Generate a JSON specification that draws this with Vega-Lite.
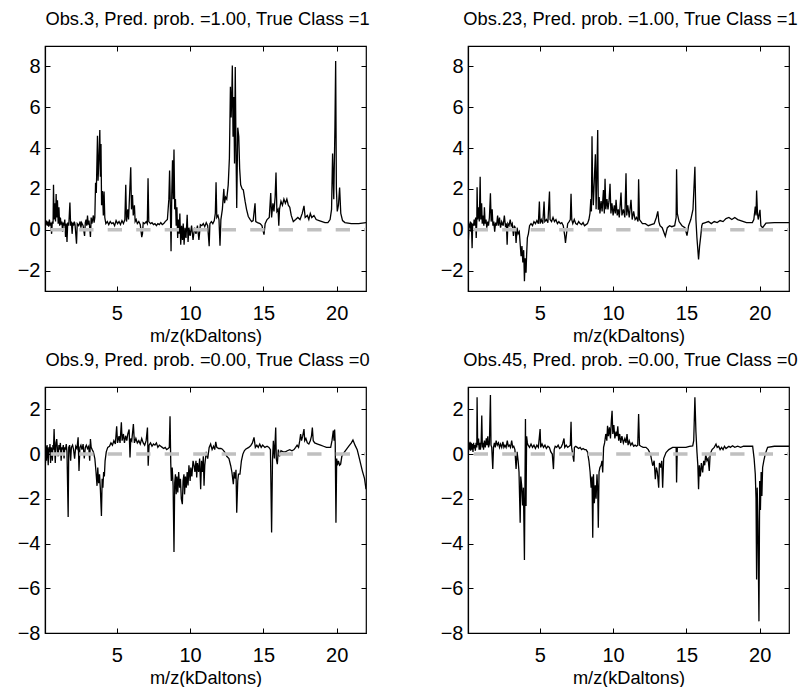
{
  "$schema": "https://vega.github.io/schema/vega-lite/v6.json",
  "padding": {"left": 16, "top": 9, "right": 0, "bottom": 0},
  "background": "white",
  "columns": 2,
  "spacing": {"column": 102, "row": 96},
  "bounds": "flush",
  "config": {
    "font": "Liberation Sans",
    "view": {"stroke": "black", "strokeWidth": 1.2},
    "axis": {"grid": false, "domainColor": "black", "tickColor": "black", "labelColor": "black", "titleColor": "black", "tickSize": -5, "labelFont": "Liberation Sans", "labelFontSize": 20, "titleFont": "Liberation Sans", "titleFontSize": 18.2, "titleFontWeight": "normal", "domainWidth": 1.2, "tickWidth": 1},
    "title": {"fontSize": 18.3, "fontWeight": "normal", "color": "black", "font": "Liberation Sans", "offset": 16, "baseline": "alphabetic", "frame": "group", "dx": 2}
  },
  "datasets": {
    "p1": [
      {"x":0.10,"y":0.55},{"x":0.15,"y":0.25},{"x":0.2,"y":0.45},{"x":0.25,"y":0.2},{"x":0.3,"y":0.4},{"x":0.35,"y":0.15},{"x":0.4,"y":0.5},{"x":0.45,"y":0.2},{"x":0.5,"y":0.35},{"x":0.55,"y":-0.2},{"x":0.6,"y":0.4},{"x":0.65,"y":0.3},{"x":0.68,"y":2.2},{"x":0.72,"y":0.5},{"x":0.78,"y":1.3},{"x":0.82,"y":0.4},{"x":0.86,"y":1.75},{"x":0.9,"y":0.6},{"x":0.95,"y":1.45},{"x":1.0,"y":0.3},{"x":1.05,"y":1.1},{"x":1.1,"y":0.2},{"x":1.15,"y":0.6},{"x":1.2,"y":0.25},{"x":1.25,"y":0.4},{"x":1.3,"y":-0.1},{"x":1.35,"y":0.35},{"x":1.4,"y":0.2},{"x":1.45,"y":0.5},{"x":1.5,"y":-0.35},{"x":1.55,"y":0.3},{"x":1.6,"y":-0.6},{"x":1.65,"y":0.35},{"x":1.72,"y":0.2},{"x":1.8,"y":1.33},{"x":1.85,"y":0.2},{"x":1.9,"y":0.4},{"x":1.95,"y":-0.2},{"x":2.0,"y":0.35},{"x":2.05,"y":0.2},{"x":2.1,"y":0.4},{"x":2.15,"y":0.25},{"x":2.25,"y":-0.68},{"x":2.3,"y":0.3},{"x":2.4,"y":0.2},{"x":2.5,"y":0.4},{"x":2.55,"y":0.1},{"x":2.6,"y":0.35},{"x":2.7,"y":0.2},{"x":2.8,"y":-0.3},{"x":2.85,"y":0.35},{"x":2.9,"y":0.5},{"x":2.95,"y":0.2},{"x":3.0,"y":0.7},{"x":3.05,"y":0.25},{"x":3.1,"y":0.45},{"x":3.15,"y":0.1},{"x":3.2,"y":-0.35},{"x":3.25,"y":0.6},{"x":3.3,"y":0.3},{"x":3.4,"y":0.7},{"x":3.45,"y":0.35},{"x":3.5,"y":0.6},{"x":3.55,"y":2.3},{"x":3.6,"y":1.8},{"x":3.68,"y":4.6},{"x":3.72,"y":2.4},{"x":3.78,"y":3.5},{"x":3.84,"y":4.88},{"x":3.88,"y":2.6},{"x":3.92,"y":4.2},{"x":3.96,"y":1.2},{"x":4.02,"y":1.9},{"x":4.08,"y":0.7},{"x":4.13,"y":1.87},{"x":4.18,"y":0.6},{"x":4.25,"y":0.3},{"x":4.35,"y":0.4},{"x":4.45,"y":0.25},{"x":4.55,"y":0.4},{"x":4.65,"y":0.3},{"x":4.75,"y":0.35},{"x":4.85,"y":0.2},{"x":4.95,"y":0.45},{"x":5.05,"y":0.3},{"x":5.15,"y":0.4},{"x":5.25,"y":0.25},{"x":5.35,"y":0.45},{"x":5.45,"y":0.3},{"x":5.55,"y":0.5},{"x":5.61,"y":2.2},{"x":5.66,"y":0.4},{"x":5.75,"y":1.0},{"x":5.8,"y":0.5},{"x":5.87,"y":1.7},{"x":5.95,"y":3.06},{"x":6.0,"y":1.0},{"x":6.07,"y":1.7},{"x":6.12,"y":0.7},{"x":6.2,"y":1.2},{"x":6.25,"y":0.4},{"x":6.32,"y":0.5},{"x":6.4,"y":0.3},{"x":6.5,"y":0.4},{"x":6.6,"y":0.25},{"x":6.7,"y":-0.36},{"x":6.75,"y":-0.2},{"x":6.8,"y":0.35},{"x":6.9,"y":0.3},{"x":7.0,"y":0.4},{"x":7.08,"y":0.3},{"x":7.13,"y":2.52},{"x":7.18,"y":0.4},{"x":7.3,"y":0.3},{"x":7.4,"y":0.35},{"x":7.5,"y":0.25},{"x":7.6,"y":0.3},{"x":7.7,"y":0.2},{"x":7.8,"y":0.3},{"x":7.9,"y":0.25},{"x":8.0,"y":0.35},{"x":8.1,"y":0.25},{"x":8.2,"y":0.3},{"x":8.3,"y":0.4},{"x":8.45,"y":0.5},{"x":8.55,"y":1.5},{"x":8.6,"y":2.9},{"x":8.65,"y":1.2},{"x":8.7,"y":-1.05},{"x":8.75,"y":1.8},{"x":8.8,"y":3.4},{"x":8.85,"y":1.5},{"x":8.9,"y":3.93},{"x":8.95,"y":1.0},{"x":9.0,"y":1.5},{"x":9.05,"y":0.2},{"x":9.1,"y":1.1},{"x":9.15,"y":-0.4},{"x":9.2,"y":0.5},{"x":9.25,"y":-0.2},{"x":9.3,"y":0.8},{"x":9.36,"y":-0.73},{"x":9.42,"y":0.2},{"x":9.48,"y":-0.5},{"x":9.53,"y":0.3},{"x":9.59,"y":-0.73},{"x":9.65,"y":0.1},{"x":9.72,"y":-0.4},{"x":9.8,"y":0.73},{"x":9.86,"y":-0.6},{"x":9.92,"y":0.1},{"x":10.0,"y":-0.3},{"x":10.1,"y":0.2},{"x":10.2,"y":-0.5},{"x":10.3,"y":0.1},{"x":10.4,"y":-0.2},{"x":10.5,"y":0.2},{"x":10.6,"y":-0.5},{"x":10.7,"y":0.25},{"x":10.8,"y":0.2},{"x":10.9,"y":0.3},{"x":11.0,"y":0.15},{"x":11.1,"y":0.35},{"x":11.2,"y":0.2},{"x":11.3,"y":-0.81},{"x":11.35,"y":0.3},{"x":11.45,"y":0.4},{"x":11.55,"y":0.3},{"x":11.65,"y":0.45},{"x":11.72,"y":0.8},{"x":11.77,"y":2.33},{"x":11.82,"y":0.6},{"x":11.9,"y":0.7},{"x":11.97,"y":0.5},{"x":12.04,"y":-0.78},{"x":12.1,"y":0.5},{"x":12.2,"y":1.0},{"x":12.3,"y":2.0},{"x":12.35,"y":1.3},{"x":12.42,"y":1.6},{"x":12.5,"y":1.5},{"x":12.6,"y":2.2},{"x":12.68,"y":3.5},{"x":12.75,"y":7.0},{"x":12.8,"y":5.5},{"x":12.85,"y":6.8},{"x":12.88,"y":8.05},{"x":12.93,"y":4.56},{"x":12.98,"y":6.5},{"x":13.03,"y":3.25},{"x":13.08,"y":7.97},{"x":13.13,"y":4.0},{"x":13.18,"y":1.06},{"x":13.25,"y":5.0},{"x":13.32,"y":4.56},{"x":13.38,"y":3.0},{"x":13.45,"y":2.2},{"x":13.55,"y":2.0},{"x":13.63,"y":1.95},{"x":13.75,"y":1.4},{"x":13.85,"y":1.0},{"x":13.97,"y":0.65},{"x":14.1,"y":0.5},{"x":14.2,"y":0.4},{"x":14.3,"y":0.45},{"x":14.43,"y":1.3},{"x":14.48,"y":0.4},{"x":14.6,"y":0.35},{"x":14.77,"y":0.3},{"x":14.9,"y":0.2},{"x":15.04,"y":-0.24},{"x":15.12,"y":0.3},{"x":15.25,"y":0.5},{"x":15.4,"y":0.6},{"x":15.5,"y":1.8},{"x":15.56,"y":0.6},{"x":15.65,"y":1.3},{"x":15.72,"y":0.9},{"x":15.8,"y":1.6},{"x":15.86,"y":2.8},{"x":15.92,"y":0.9},{"x":16.0,"y":1.0},{"x":16.05,"y":0.2},{"x":16.1,"y":1.0},{"x":16.2,"y":1.4},{"x":16.3,"y":1.2},{"x":16.4,"y":1.5},{"x":16.5,"y":1.3},{"x":16.6,"y":1.5},{"x":16.7,"y":1.2},{"x":16.8,"y":1.1},{"x":16.9,"y":0.7},{"x":17.04,"y":0.4},{"x":17.2,"y":0.5},{"x":17.35,"y":0.6},{"x":17.5,"y":0.5},{"x":17.65,"y":0.8},{"x":17.77,"y":1.17},{"x":17.85,"y":0.6},{"x":18.0,"y":0.7},{"x":18.1,"y":0.5},{"x":18.2,"y":0.8},{"x":18.3,"y":0.6},{"x":18.45,"y":0.7},{"x":18.6,"y":0.5},{"x":18.8,"y":0.45},{"x":19.0,"y":0.4},{"x":19.2,"y":0.35},{"x":19.4,"y":0.35},{"x":19.55,"y":0.5},{"x":19.65,"y":1.0},{"x":19.72,"y":3.74},{"x":19.8,"y":1.5},{"x":19.88,"y":5.0},{"x":19.93,"y":8.26},{"x":19.98,"y":2.0},{"x":20.04,"y":0.9},{"x":20.12,"y":1.2},{"x":20.2,"y":2.07},{"x":20.28,"y":0.8},{"x":20.4,"y":0.45},{"x":20.56,"y":0.35},{"x":21.0,"y":0.3},{"x":21.5,"y":0.3},{"x":22.0,"y":0.35}
    ],
    "p2": [
      {"x":0.10,"y":0.3},{"x":0.13,"y":-0.5},{"x":0.18,"y":0.3},{"x":0.22,"y":0.1},{"x":0.26,"y":0.4},{"x":0.3,"y":-0.1},{"x":0.33,"y":0.35},{"x":0.38,"y":-0.9},{"x":0.42,"y":0.3},{"x":0.48,"y":0.2},{"x":0.52,"y":0.5},{"x":0.58,"y":0.2},{"x":0.62,"y":0.6},{"x":0.66,"y":-0.4},{"x":0.7,"y":0.4},{"x":0.72,"y":2.08},{"x":0.76,"y":0.5},{"x":0.82,"y":1.1},{"x":0.87,"y":0.4},{"x":0.93,"y":2.6},{"x":0.97,"y":0.5},{"x":1.03,"y":1.3},{"x":1.07,"y":0.3},{"x":1.13,"y":0.7},{"x":1.18,"y":0.2},{"x":1.22,"y":1.1},{"x":1.27,"y":0.3},{"x":1.33,"y":0.5},{"x":1.38,"y":0.1},{"x":1.45,"y":0.4},{"x":1.5,"y":0.2},{"x":1.56,"y":0.6},{"x":1.63,"y":1.79},{"x":1.68,"y":0.4},{"x":1.75,"y":1.0},{"x":1.8,"y":0.2},{"x":1.86,"y":0.4},{"x":1.92,"y":-0.1},{"x":1.98,"y":0.35},{"x":2.05,"y":0.2},{"x":2.12,"y":0.7},{"x":2.18,"y":0.2},{"x":2.25,"y":0.6},{"x":2.32,"y":0.1},{"x":2.4,"y":0.4},{"x":2.5,"y":0.2},{"x":2.58,"y":0.7},{"x":2.65,"y":0.2},{"x":2.72,"y":0.3},{"x":2.77,"y":-0.73},{"x":2.82,"y":0.3},{"x":2.9,"y":0.2},{"x":2.98,"y":0.5},{"x":3.05,"y":0.2},{"x":3.12,"y":0.3},{"x":3.2,"y":-0.3},{"x":3.26,"y":0.2},{"x":3.32,"y":0.1},{"x":3.38,"y":-0.65},{"x":3.45,"y":0.1},{"x":3.52,"y":-0.2},{"x":3.6,"y":-0.1},{"x":3.66,"y":-0.7},{"x":3.72,"y":-1.3},{"x":3.78,"y":-0.8},{"x":3.84,"y":-1.6},{"x":3.9,"y":-1.0},{"x":3.95,"y":-2.52},{"x":4.0,"y":-1.4},{"x":4.06,"y":-2.1},{"x":4.1,"y":-1.2},{"x":4.15,"y":-0.4},{"x":4.22,"y":-0.2},{"x":4.3,"y":0.2},{"x":4.4,"y":0.3},{"x":4.5,"y":0.2},{"x":4.6,"y":0.4},{"x":4.7,"y":0.3},{"x":4.8,"y":0.45},{"x":4.9,"y":0.3},{"x":4.97,"y":1.38},{"x":5.02,"y":0.3},{"x":5.1,"y":0.5},{"x":5.2,"y":0.3},{"x":5.29,"y":1.38},{"x":5.34,"y":0.4},{"x":5.45,"y":0.5},{"x":5.55,"y":0.35},{"x":5.66,"y":1.87},{"x":5.7,"y":0.5},{"x":5.8,"y":0.4},{"x":5.9,"y":0.6},{"x":6.0,"y":0.4},{"x":6.1,"y":0.5},{"x":6.2,"y":0.3},{"x":6.3,"y":0.4},{"x":6.4,"y":0.3},{"x":6.5,"y":0.35},{"x":6.6,"y":0.2},{"x":6.7,"y":-0.3},{"x":6.75,"y":-0.65},{"x":6.82,"y":-0.2},{"x":6.9,"y":0.3},{"x":7.0,"y":0.4},{"x":7.08,"y":0.5},{"x":7.13,"y":1.76},{"x":7.18,"y":0.5},{"x":7.25,"y":0.3},{"x":7.35,"y":0.5},{"x":7.45,"y":0.3},{"x":7.55,"y":0.25},{"x":7.65,"y":0.4},{"x":7.75,"y":0.3},{"x":7.85,"y":0.25},{"x":7.95,"y":0.35},{"x":8.05,"y":0.2},{"x":8.15,"y":0.25},{"x":8.25,"y":0.3},{"x":8.35,"y":0.5},{"x":8.42,"y":0.8},{"x":8.48,"y":1.5},{"x":8.52,"y":0.9},{"x":8.56,"y":4.58},{"x":8.6,"y":2.3},{"x":8.65,"y":1.2},{"x":8.72,"y":2.5},{"x":8.79,"y":3.7},{"x":8.84,"y":1.0},{"x":8.9,"y":3.0},{"x":8.95,"y":4.88},{"x":8.99,"y":0.98},{"x":9.05,"y":1.6},{"x":9.1,"y":0.8},{"x":9.18,"y":1.4},{"x":9.25,"y":0.9},{"x":9.34,"y":1.95},{"x":9.4,"y":0.8},{"x":9.45,"y":2.5},{"x":9.5,"y":1.0},{"x":9.58,"y":1.5},{"x":9.65,"y":1.0},{"x":9.72,"y":1.4},{"x":9.79,"y":2.25},{"x":9.85,"y":0.8},{"x":9.92,"y":1.3},{"x":10.0,"y":0.7},{"x":10.08,"y":1.2},{"x":10.15,"y":0.8},{"x":10.2,"y":1.47},{"x":10.28,"y":0.7},{"x":10.35,"y":1.0},{"x":10.42,"y":0.6},{"x":10.48,"y":1.2},{"x":10.54,"y":1.82},{"x":10.6,"y":0.7},{"x":10.7,"y":1.0},{"x":10.8,"y":0.6},{"x":10.88,"y":2.77},{"x":10.93,"y":0.7},{"x":11.0,"y":1.2},{"x":11.1,"y":0.6},{"x":11.22,"y":1.47},{"x":11.3,"y":0.5},{"x":11.4,"y":0.9},{"x":11.5,"y":0.5},{"x":11.6,"y":0.6},{"x":11.7,"y":0.4},{"x":11.74,"y":2.47},{"x":11.8,"y":0.5},{"x":11.9,"y":0.4},{"x":12.0,"y":0.3},{"x":12.2,"y":0.3},{"x":12.4,"y":0.2},{"x":12.6,"y":0.25},{"x":12.8,"y":0.3},{"x":12.95,"y":0.6},{"x":13.05,"y":0.9},{"x":13.12,"y":0.4},{"x":13.2,"y":0.2},{"x":13.35,"y":0.1},{"x":13.56,"y":-0.32},{"x":13.7,"y":0.1},{"x":13.85,"y":0.2},{"x":14.0,"y":0.15},{"x":14.2,"y":0.2},{"x":14.3,"y":0.6},{"x":14.33,"y":2.96},{"x":14.38,"y":0.8},{"x":14.5,"y":0.4},{"x":14.7,"y":0.2},{"x":14.9,"y":0.1},{"x":15.04,"y":-0.29},{"x":15.15,"y":0.2},{"x":15.3,"y":0.5},{"x":15.45,"y":1.0},{"x":15.58,"y":3.09},{"x":15.65,"y":0.5},{"x":15.72,"y":-0.4},{"x":15.83,"y":-1.46},{"x":15.9,"y":-0.8},{"x":15.98,"y":-0.3},{"x":16.05,"y":0.2},{"x":16.1,"y":0.3},{"x":16.3,"y":0.35},{"x":16.5,"y":0.4},{"x":16.7,"y":0.3},{"x":16.9,"y":0.4},{"x":17.1,"y":0.35},{"x":17.3,"y":0.45},{"x":17.5,"y":0.4},{"x":17.7,"y":0.55},{"x":17.9,"y":0.6},{"x":18.1,"y":0.5},{"x":18.3,"y":0.6},{"x":18.5,"y":0.5},{"x":18.7,"y":0.45},{"x":18.9,"y":0.4},{"x":19.1,"y":0.35},{"x":19.3,"y":0.35},{"x":19.5,"y":0.35},{"x":19.6,"y":0.5},{"x":19.7,"y":1.14},{"x":19.75,"y":0.7},{"x":19.79,"y":1.92},{"x":19.85,"y":0.8},{"x":19.9,"y":0.5},{"x":20.02,"y":0.98},{"x":20.08,"y":0.2},{"x":20.2,"y":0.1},{"x":20.43,"y":0.33},{"x":21.0,"y":0.35},{"x":22.0,"y":0.35}
    ],
    "p3": [
      {"x":0.10,"y":0.2},{"x":0.13,"y":-0.4},{"x":0.17,"y":0.35},{"x":0.2,"y":-0.3},{"x":0.24,"y":0.4},{"x":0.28,"y":0.1},{"x":0.32,"y":-0.5},{"x":0.36,"y":0.3},{"x":0.4,"y":0.1},{"x":0.44,"y":0.45},{"x":0.48,"y":-0.4},{"x":0.52,"y":0.3},{"x":0.56,"y":0.2},{"x":0.6,"y":-0.3},{"x":0.64,"y":0.4},{"x":0.68,"y":0.2},{"x":0.72,"y":1.12},{"x":0.76,"y":0.3},{"x":0.8,"y":-0.4},{"x":0.85,"y":0.5},{"x":0.9,"y":0.67},{"x":0.95,"y":0.2},{"x":1.0,"y":-0.1},{"x":1.05,"y":0.4},{"x":1.1,"y":0.2},{"x":1.15,"y":0.5},{"x":1.2,"y":-0.3},{"x":1.25,"y":0.3},{"x":1.3,"y":0.2},{"x":1.35,"y":0.4},{"x":1.4,"y":-0.2},{"x":1.45,"y":0.3},{"x":1.5,"y":0.2},{"x":1.55,"y":0.45},{"x":1.6,"y":0.1},{"x":1.68,"y":-2.81},{"x":1.72,"y":0.3},{"x":1.78,"y":0.4},{"x":1.85,"y":-0.3},{"x":1.9,"y":0.3},{"x":1.98,"y":0.4},{"x":2.05,"y":0.2},{"x":2.12,"y":-0.2},{"x":2.2,"y":0.35},{"x":2.28,"y":0.25},{"x":2.36,"y":0.75},{"x":2.42,"y":-0.75},{"x":2.48,"y":0.3},{"x":2.55,"y":0.4},{"x":2.62,"y":0.2},{"x":2.7,"y":0.45},{"x":2.78,"y":-0.2},{"x":2.85,"y":0.3},{"x":2.92,"y":0.4},{"x":3.0,"y":0.25},{"x":3.08,"y":0.35},{"x":3.15,"y":-0.3},{"x":3.2,"y":0.67},{"x":3.25,"y":0.3},{"x":3.32,"y":0.2},{"x":3.4,"y":0.1},{"x":3.5,"y":-0.2},{"x":3.58,"y":-0.8},{"x":3.65,"y":-1.42},{"x":3.7,"y":-0.6},{"x":3.76,"y":-1.3},{"x":3.82,"y":-0.9},{"x":3.88,"y":-1.6},{"x":3.95,"y":-2.77},{"x":4.0,"y":-1.1},{"x":4.05,"y":-1.5},{"x":4.1,"y":-0.8},{"x":4.15,"y":-1.0},{"x":4.2,"y":-0.3},{"x":4.28,"y":0.1},{"x":4.38,"y":0.3},{"x":4.5,"y":0.35},{"x":4.6,"y":0.5},{"x":4.7,"y":0.4},{"x":4.8,"y":0.6},{"x":4.9,"y":0.45},{"x":4.99,"y":1.24},{"x":5.05,"y":0.5},{"x":5.15,"y":0.8},{"x":5.22,"y":0.5},{"x":5.31,"y":1.42},{"x":5.36,"y":0.6},{"x":5.45,"y":0.9},{"x":5.52,"y":0.5},{"x":5.6,"y":0.82},{"x":5.68,"y":0.6},{"x":5.75,"y":0.9},{"x":5.84,"y":1.1},{"x":5.9,"y":-0.15},{"x":5.95,"y":0.7},{"x":6.02,"y":0.6},{"x":6.08,"y":1.0},{"x":6.13,"y":1.34},{"x":6.2,"y":0.5},{"x":6.3,"y":0.7},{"x":6.4,"y":0.5},{"x":6.5,"y":0.6},{"x":6.6,"y":0.45},{"x":6.7,"y":0.7},{"x":6.8,"y":0.5},{"x":6.9,"y":0.4},{"x":7.0,"y":0.6},{"x":7.09,"y":1.19},{"x":7.14,"y":-0.52},{"x":7.2,"y":0.4},{"x":7.3,"y":0.5},{"x":7.4,"y":0.35},{"x":7.5,"y":0.45},{"x":7.6,"y":0.4},{"x":7.7,"y":0.5},{"x":7.8,"y":0.3},{"x":7.9,"y":0.4},{"x":8.0,"y":0.35},{"x":8.1,"y":0.3},{"x":8.2,"y":0.25},{"x":8.3,"y":0.3},{"x":8.4,"y":0.2},{"x":8.5,"y":0.25},{"x":8.58,"y":0.3},{"x":8.63,"y":1.69},{"x":8.68,"y":-0.4},{"x":8.72,"y":-1.2},{"x":8.78,"y":-0.6},{"x":8.84,"y":-1.4},{"x":8.9,"y":-4.38},{"x":8.95,"y":-1.27},{"x":9.0,"y":-0.9},{"x":9.05,"y":-1.8},{"x":9.1,"y":-1.0},{"x":9.16,"y":-1.72},{"x":9.22,"y":-0.8},{"x":9.28,"y":-1.5},{"x":9.34,"y":-1.1},{"x":9.4,"y":-2.0},{"x":9.47,"y":-2.24},{"x":9.52,"y":-1.2},{"x":9.58,"y":-0.9},{"x":9.62,"y":-1.8},{"x":9.68,"y":-1.0},{"x":9.74,"y":-1.5},{"x":9.8,"y":-0.8},{"x":9.86,"y":-1.4},{"x":9.92,"y":-0.5},{"x":10.0,"y":-1.2},{"x":10.05,"y":-0.6},{"x":10.12,"y":-1.0},{"x":10.2,"y":-0.3},{"x":10.27,"y":-0.52},{"x":10.33,"y":-0.8},{"x":10.4,"y":-0.3},{"x":10.45,"y":-1.05},{"x":10.5,"y":-0.4},{"x":10.58,"y":-0.8},{"x":10.65,"y":-0.2},{"x":10.72,"y":-1.57},{"x":10.78,"y":-0.3},{"x":10.84,"y":-0.8},{"x":10.9,"y":-0.1},{"x":10.95,"y":-1.42},{"x":11.0,"y":-0.5},{"x":11.1,"y":0.1},{"x":11.2,"y":-0.2},{"x":11.3,"y":0.3},{"x":11.4,"y":0.45},{"x":11.5,"y":0.2},{"x":11.6,"y":0.35},{"x":11.68,"y":0.2},{"x":11.75,"y":0.55},{"x":11.82,"y":0.3},{"x":11.95,"y":0.25},{"x":12.1,"y":0.25},{"x":12.2,"y":0.22},{"x":12.35,"y":0.1},{"x":12.5,"y":-0.1},{"x":12.65,"y":-0.2},{"x":12.77,"y":-0.52},{"x":12.85,"y":-0.8},{"x":12.95,"y":-1.35},{"x":13.0,"y":-0.8},{"x":13.08,"y":-1.1},{"x":13.13,"y":-0.7},{"x":13.18,"y":-2.62},{"x":13.25,"y":-1.2},{"x":13.3,"y":-0.9},{"x":13.4,"y":-0.9},{"x":13.5,"y":-0.3},{"x":13.6,"y":0.0},{"x":13.7,"y":0.15},{"x":13.79,"y":0.22},{"x":14.0,"y":0.3},{"x":14.13,"y":0.37},{"x":14.25,"y":0.5},{"x":14.36,"y":0.75},{"x":14.45,"y":0.3},{"x":14.55,"y":0.4},{"x":14.65,"y":0.3},{"x":14.75,"y":0.45},{"x":14.85,"y":0.3},{"x":14.95,"y":0.4},{"x":15.1,"y":0.3},{"x":15.25,"y":0.35},{"x":15.38,"y":0.3},{"x":15.48,"y":0.2},{"x":15.56,"y":-3.51},{"x":15.62,"y":-0.3},{"x":15.68,"y":0.6},{"x":15.75,"y":-0.2},{"x":15.84,"y":1.19},{"x":15.88,"y":-0.2},{"x":15.95,"y":-0.45},{"x":16.02,"y":0.2},{"x":16.1,"y":-0.1},{"x":16.2,"y":0.15},{"x":16.35,"y":0.1},{"x":16.5,"y":0.1},{"x":16.63,"y":0.15},{"x":16.8,"y":0.2},{"x":16.95,"y":0.15},{"x":17.09,"y":0.2},{"x":17.2,"y":0.3},{"x":17.3,"y":0.4},{"x":17.4,"y":0.3},{"x":17.48,"y":0.6},{"x":17.54,"y":0.9},{"x":17.6,"y":0.6},{"x":17.68,"y":0.8},{"x":17.77,"y":1.12},{"x":17.82,"y":0.6},{"x":17.9,"y":0.7},{"x":18.0,"y":0.5},{"x":18.1,"y":0.45},{"x":18.2,"y":0.6},{"x":18.28,"y":0.8},{"x":18.34,"y":1.19},{"x":18.4,"y":0.6},{"x":18.5,"y":0.5},{"x":18.7,"y":0.45},{"x":18.9,"y":0.4},{"x":19.1,"y":0.35},{"x":19.3,"y":0.3},{"x":19.5,"y":0.3},{"x":19.59,"y":0.3},{"x":19.68,"y":0.6},{"x":19.77,"y":1.05},{"x":19.82,"y":0.6},{"x":19.86,"y":1.1},{"x":19.9,"y":0.5},{"x":19.95,"y":-3.07},{"x":20.0,"y":-0.2},{"x":20.05,"y":-0.5},{"x":20.12,"y":-0.3},{"x":20.2,"y":-0.5},{"x":20.27,"y":-0.45},{"x":20.35,"y":-0.1},{"x":20.5,"y":0.07},{"x":20.65,"y":0.2},{"x":20.84,"y":0.37},{"x":21.0,"y":0.5},{"x":21.11,"y":0.63},{"x":21.25,"y":0.4},{"x":21.4,"y":0.2},{"x":21.55,"y":-0.2},{"x":21.75,"y":-0.75},{"x":21.9,"y":-1.1},{"x":22.0,"y":-1.57}
    ],
    "p4": [
      {"x":0.10,"y":0.6},{"x":0.13,"y":0.1},{"x":0.17,"y":0.5},{"x":0.2,"y":0.2},{"x":0.24,"y":0.55},{"x":0.28,"y":0.15},{"x":0.32,"y":0.5},{"x":0.36,"y":0.2},{"x":0.4,"y":0.45},{"x":0.44,"y":0.1},{"x":0.48,"y":0.5},{"x":0.52,"y":0.25},{"x":0.56,"y":0.4},{"x":0.6,"y":0.15},{"x":0.65,"y":0.5},{"x":0.7,"y":0.3},{"x":0.72,"y":2.54},{"x":0.76,"y":0.4},{"x":0.82,"y":0.7},{"x":0.86,"y":0.2},{"x":0.9,"y":0.5},{"x":0.95,"y":0.2},{"x":1.0,"y":0.6},{"x":1.04,"y":1.72},{"x":1.08,"y":0.3},{"x":1.12,"y":0.5},{"x":1.16,"y":0.2},{"x":1.22,"y":0.6},{"x":1.28,"y":0.3},{"x":1.35,"y":0.7},{"x":1.4,"y":0.4},{"x":1.45,"y":0.8},{"x":1.5,"y":0.3},{"x":1.56,"y":0.45},{"x":1.63,"y":2.64},{"x":1.67,"y":0.4},{"x":1.72,"y":0.3},{"x":1.79,"y":-0.67},{"x":1.84,"y":0.3},{"x":1.9,"y":0.5},{"x":1.96,"y":0.3},{"x":2.02,"y":0.6},{"x":2.1,"y":0.4},{"x":2.18,"y":0.5},{"x":2.25,"y":0.3},{"x":2.32,"y":0.45},{"x":2.4,"y":0.3},{"x":2.48,"y":0.55},{"x":2.55,"y":0.3},{"x":2.62,"y":0.4},{"x":2.7,"y":0.3},{"x":2.78,"y":0.6},{"x":2.85,"y":0.35},{"x":2.92,"y":0.4},{"x":3.0,"y":0.3},{"x":3.08,"y":0.6},{"x":3.15,"y":0.3},{"x":3.22,"y":0.35},{"x":3.3,"y":0.2},{"x":3.38,"y":-0.67},{"x":3.45,"y":0.1},{"x":3.52,"y":-0.3},{"x":3.58,"y":-0.8},{"x":3.66,"y":-3.07},{"x":3.7,"y":-1.0},{"x":3.76,"y":-1.4},{"x":3.82,"y":-2.3},{"x":3.88,"y":-1.5},{"x":3.95,"y":-4.74},{"x":4.02,"y":1.57},{"x":4.06,"y":-2.32},{"x":4.1,"y":0.8},{"x":4.15,"y":0.5},{"x":4.2,"y":0.4},{"x":4.3,"y":0.3},{"x":4.4,"y":0.45},{"x":4.5,"y":0.3},{"x":4.6,"y":0.4},{"x":4.7,"y":0.25},{"x":4.8,"y":0.4},{"x":4.9,"y":0.3},{"x":5.02,"y":1.12},{"x":5.06,"y":0.3},{"x":5.15,"y":0.45},{"x":5.25,"y":0.3},{"x":5.35,"y":0.4},{"x":5.45,"y":0.25},{"x":5.55,"y":0.35},{"x":5.65,"y":0.3},{"x":5.75,"y":0.1},{"x":5.85,"y":0.0},{"x":5.93,"y":-0.67},{"x":5.98,"y":0.2},{"x":6.05,"y":0.35},{"x":6.15,"y":0.3},{"x":6.25,"y":0.4},{"x":6.35,"y":0.25},{"x":6.45,"y":0.3},{"x":6.55,"y":0.45},{"x":6.65,"y":0.7},{"x":6.7,"y":0.3},{"x":6.8,"y":0.4},{"x":6.9,"y":0.3},{"x":7.0,"y":0.35},{"x":7.08,"y":0.4},{"x":7.13,"y":1.45},{"x":7.17,"y":0.3},{"x":7.32,"y":-0.34},{"x":7.36,"y":0.3},{"x":7.45,"y":0.35},{"x":7.55,"y":0.3},{"x":7.65,"y":0.25},{"x":7.75,"y":0.3},{"x":7.85,"y":0.2},{"x":7.95,"y":0.25},{"x":8.05,"y":0.2},{"x":8.15,"y":0.2},{"x":8.25,"y":0.1},{"x":8.35,"y":-0.3},{"x":8.43,"y":-0.8},{"x":8.5,"y":-1.5},{"x":8.56,"y":-1.0},{"x":8.61,"y":-3.74},{"x":8.66,"y":-0.9},{"x":8.72,"y":-2.2},{"x":8.78,"y":-1.4},{"x":8.84,"y":-2.0},{"x":8.9,"y":-0.9},{"x":8.95,"y":-1.6},{"x":8.99,"y":-3.29},{"x":9.04,"y":-0.8},{"x":9.1,"y":-0.6},{"x":9.18,"y":-0.5},{"x":9.24,"y":-0.3},{"x":9.29,"y":-0.82},{"x":9.35,"y":0.3},{"x":9.42,"y":0.5},{"x":9.5,"y":0.9},{"x":9.57,"y":0.6},{"x":9.62,"y":1.27},{"x":9.68,"y":0.8},{"x":9.75,"y":1.2},{"x":9.82,"y":0.7},{"x":9.88,"y":1.5},{"x":9.93,"y":1.94},{"x":9.98,"y":0.9},{"x":10.05,"y":1.3},{"x":10.12,"y":0.7},{"x":10.2,"y":1.0},{"x":10.26,"y":0.8},{"x":10.32,"y":1.24},{"x":10.38,"y":0.6},{"x":10.45,"y":0.9},{"x":10.52,"y":0.5},{"x":10.6,"y":0.8},{"x":10.7,"y":0.5},{"x":10.8,"y":0.7},{"x":10.88,"y":0.5},{"x":10.95,"y":0.9},{"x":11.02,"y":0.4},{"x":11.1,"y":0.6},{"x":11.2,"y":0.4},{"x":11.3,"y":0.5},{"x":11.4,"y":0.35},{"x":11.5,"y":0.4},{"x":11.6,"y":0.35},{"x":11.68,"y":0.4},{"x":11.74,"y":1.79},{"x":11.8,"y":0.4},{"x":11.9,"y":0.35},{"x":12.05,"y":0.3},{"x":12.24,"y":0.3},{"x":12.4,"y":0.2},{"x":12.55,"y":0.0},{"x":12.7,"y":-0.52},{"x":12.8,"y":-0.3},{"x":12.88,"y":-1.12},{"x":12.95,"y":-0.6},{"x":13.02,"y":-0.8},{"x":13.11,"y":-1.5},{"x":13.16,"y":-0.4},{"x":13.25,"y":-0.6},{"x":13.32,"y":-0.3},{"x":13.38,"y":-1.5},{"x":13.45,"y":-0.2},{"x":13.61,"y":0.07},{"x":13.8,"y":0.2},{"x":14.06,"y":0.3},{"x":14.2,"y":0.3},{"x":14.3,"y":0.3},{"x":14.33,"y":-1.27},{"x":14.38,"y":0.3},{"x":14.6,"y":0.3},{"x":14.8,"y":0.3},{"x":14.97,"y":0.3},{"x":15.2,"y":0.35},{"x":15.43,"y":0.37},{"x":15.5,"y":0.6},{"x":15.58,"y":2.54},{"x":15.65,"y":1.0},{"x":15.72,"y":0.1},{"x":15.78,"y":-0.5},{"x":15.83,"y":-1.57},{"x":15.88,"y":-0.5},{"x":15.95,"y":-1.0},{"x":16.02,"y":-0.4},{"x":16.11,"y":-0.82},{"x":16.18,"y":-0.3},{"x":16.25,"y":-0.5},{"x":16.32,"y":0.0},{"x":16.4,"y":-0.3},{"x":16.48,"y":-0.2},{"x":16.56,"y":-0.75},{"x":16.62,"y":0.0},{"x":16.75,"y":0.2},{"x":16.9,"y":0.3},{"x":17.02,"y":0.45},{"x":17.1,"y":0.3},{"x":17.2,"y":0.35},{"x":17.3,"y":0.2},{"x":17.4,"y":0.3},{"x":17.5,"y":0.2},{"x":17.6,"y":0.35},{"x":17.7,"y":0.25},{"x":17.8,"y":0.3},{"x":17.9,"y":0.35},{"x":18.0,"y":0.3},{"x":18.15,"y":0.37},{"x":18.3,"y":0.3},{"x":18.5,"y":0.35},{"x":18.7,"y":0.3},{"x":18.9,"y":0.35},{"x":19.1,"y":0.35},{"x":19.3,"y":0.35},{"x":19.52,"y":0.35},{"x":19.62,"y":-0.2},{"x":19.7,"y":-0.9},{"x":19.75,"y":-2.0},{"x":19.79,"y":-5.61},{"x":19.83,"y":-1.5},{"x":19.88,"y":-3.0},{"x":19.95,"y":-7.48},{"x":20.0,"y":-1.2},{"x":20.05,"y":-2.5},{"x":20.1,"y":-0.8},{"x":20.15,"y":-1.87},{"x":20.2,"y":-0.6},{"x":20.28,"y":-0.3},{"x":20.38,"y":0.0},{"x":20.54,"y":0.3},{"x":21.0,"y":0.35},{"x":22.0,"y":0.35}
    ]
  },
  "concat": [
    {
      "width": 321, "height": 245,
      "title": {"text": "Obs.3, Pred. prob. =1.00, True Class =1"},
      "resolve": {"axis": {"x": "independent", "y": "independent"}},
      "layer": [
        {
          "data": {"name": "p1"},
          "mark": {"type": "line", "color": "black", "strokeWidth": 1.3, "clip": true},
          "encoding": {
            "x": {"field": "x", "type": "quantitative", "scale": {"domain": [0.1, 22], "nice": false, "zero": false}, "axis": {"orient": "bottom", "values": [5, 10, 15, 20], "title": "m/z(kDaltons)", "labelBaseline": "alphabetic", "labelPadding": 33, "titleBaseline": "alphabetic", "titleY": 50}},
            "y": {"field": "y", "type": "quantitative", "scale": {"domain": [-3, 9], "nice": false, "zero": false}, "axis": {"orient": "left", "values": [-2, 0, 2, 4, 6, 8], "title": null, "labelPadding": 10}}
          }
        },
        {
          "data": {"values": [{}]},
          "mark": {"type": "rule", "color": "#c0c0c0", "strokeWidth": 3.5, "strokeDash": [14.3, 14.2], "strokeDashOffset": 22.8},
          "encoding": {
            "x": {"datum": 0.1, "type": "quantitative", "axis": {"orient": "top", "values": [5, 10, 15, 20], "labels": false, "title": null, "domain": false}},
            "x2": {"datum": 22},
            "y": {"datum": 0, "type": "quantitative", "axis": {"orient": "right", "values": [-2, 0, 2, 4, 6, 8], "labels": false, "title": null, "domain": false}}
          }
        }
      ]
    },
    {
      "width": 321, "height": 245,
      "title": {"text": "Obs.23, Pred. prob. =1.00, True Class =1"},
      "resolve": {"axis": {"x": "independent", "y": "independent"}},
      "layer": [
        {
          "data": {"name": "p2"},
          "mark": {"type": "line", "color": "black", "strokeWidth": 1.3, "clip": true},
          "encoding": {
            "x": {"field": "x", "type": "quantitative", "scale": {"domain": [0.1, 22], "nice": false, "zero": false}, "axis": {"orient": "bottom", "values": [5, 10, 15, 20], "title": "m/z(kDaltons)", "labelBaseline": "alphabetic", "labelPadding": 33, "titleBaseline": "alphabetic", "titleY": 50}},
            "y": {"field": "y", "type": "quantitative", "scale": {"domain": [-3, 9], "nice": false, "zero": false}, "axis": {"orient": "left", "values": [-2, 0, 2, 4, 6, 8], "title": null, "labelPadding": 10}}
          }
        },
        {
          "data": {"values": [{}]},
          "mark": {"type": "rule", "color": "#c0c0c0", "strokeWidth": 3.5, "strokeDash": [14.3, 14.2], "strokeDashOffset": 22.8},
          "encoding": {
            "x": {"datum": 0.1, "type": "quantitative", "axis": {"orient": "top", "values": [5, 10, 15, 20], "labels": false, "title": null, "domain": false}},
            "x2": {"datum": 22},
            "y": {"datum": 0, "type": "quantitative", "axis": {"orient": "right", "values": [-2, 0, 2, 4, 6, 8], "labels": false, "title": null, "domain": false}}
          }
        }
      ]
    },
    {
      "width": 321, "height": 246,
      "title": {"text": "Obs.9, Pred. prob. =0.00, True Class =0"},
      "resolve": {"axis": {"x": "independent", "y": "independent"}},
      "layer": [
        {
          "data": {"name": "p3"},
          "mark": {"type": "line", "color": "black", "strokeWidth": 1.3, "clip": true},
          "encoding": {
            "x": {"field": "x", "type": "quantitative", "scale": {"domain": [0.1, 22], "nice": false, "zero": false}, "axis": {"orient": "bottom", "values": [5, 10, 15, 20], "title": "m/z(kDaltons)", "labelBaseline": "alphabetic", "labelPadding": 33, "titleBaseline": "alphabetic", "titleY": 50}},
            "y": {"field": "y", "type": "quantitative", "scale": {"domain": [-8, 3], "nice": false, "zero": false}, "axis": {"orient": "left", "values": [-8, -6, -4, -2, 0, 2], "title": null, "labelPadding": 10}}
          }
        },
        {
          "data": {"values": [{}]},
          "mark": {"type": "rule", "color": "#c0c0c0", "strokeWidth": 3.5, "strokeDash": [14.3, 14.2], "strokeDashOffset": 22.8},
          "encoding": {
            "x": {"datum": 0.1, "type": "quantitative", "axis": {"orient": "top", "values": [5, 10, 15, 20], "labels": false, "title": null, "domain": false}},
            "x2": {"datum": 22},
            "y": {"datum": 0, "type": "quantitative", "axis": {"orient": "right", "values": [-8, -6, -4, -2, 0, 2], "labels": false, "title": null, "domain": false}}
          }
        }
      ]
    },
    {
      "width": 321, "height": 246,
      "title": {"text": "Obs.45, Pred. prob. =0.00, True Class =0"},
      "resolve": {"axis": {"x": "independent", "y": "independent"}},
      "layer": [
        {
          "data": {"name": "p4"},
          "mark": {"type": "line", "color": "black", "strokeWidth": 1.3, "clip": true},
          "encoding": {
            "x": {"field": "x", "type": "quantitative", "scale": {"domain": [0.1, 22], "nice": false, "zero": false}, "axis": {"orient": "bottom", "values": [5, 10, 15, 20], "title": "m/z(kDaltons)", "labelBaseline": "alphabetic", "labelPadding": 33, "titleBaseline": "alphabetic", "titleY": 50}},
            "y": {"field": "y", "type": "quantitative", "scale": {"domain": [-8, 3], "nice": false, "zero": false}, "axis": {"orient": "left", "values": [-8, -6, -4, -2, 0, 2], "title": null, "labelPadding": 10}}
          }
        },
        {
          "data": {"values": [{}]},
          "mark": {"type": "rule", "color": "#c0c0c0", "strokeWidth": 3.5, "strokeDash": [14.3, 14.2], "strokeDashOffset": 22.8},
          "encoding": {
            "x": {"datum": 0.1, "type": "quantitative", "axis": {"orient": "top", "values": [5, 10, 15, 20], "labels": false, "title": null, "domain": false}},
            "x2": {"datum": 22},
            "y": {"datum": 0, "type": "quantitative", "axis": {"orient": "right", "values": [-8, -6, -4, -2, 0, 2], "labels": false, "title": null, "domain": false}}
          }
        }
      ]
    }
  ]
}
